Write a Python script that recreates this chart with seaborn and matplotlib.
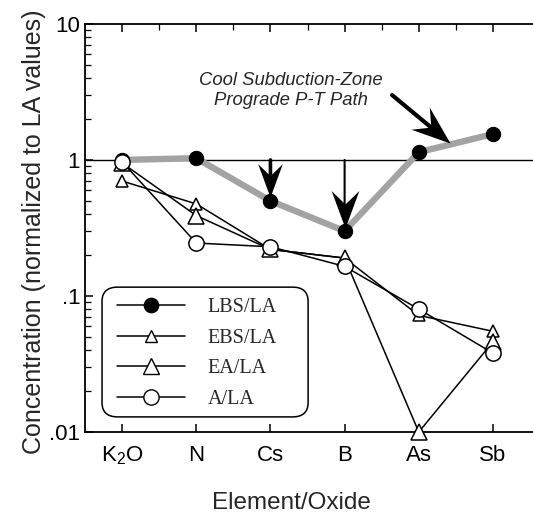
import numpy as np
import pandas as pd
import matplotlib
matplotlib.use("Agg")
import matplotlib.pyplot as plt
import seaborn as sns
from matplotlib.ticker import LogLocator, FixedLocator, FixedFormatter, NullFormatter
from matplotlib.lines import Line2D
from matplotlib.path import Path
from matplotlib.markers import MarkerStyle
from matplotlib.patches import FancyBboxPatch

categories = ["K$_2$O", "N", "Cs", "B", "As", "Sb"]
lbs_la = [1.00, 1.03, 0.50, 0.30, 1.14, 1.55]
ebs_la = [0.70, 0.475, 0.22, 0.19, 0.072, 0.055]
ea_la = [0.95, 0.39, 0.22, 0.19, 0.010, 0.046]
a_la = [0.97, 0.245, 0.23, 0.165, 0.080, 0.038]
y_tick_values = [0.01, 0.1, 1, 10]
y_tick_labels = [".01", ".1", "1", "10"]

sns.set_theme(style="ticks")
plt.rcParams["font.family"] = ["Liberation Sans", "DejaVu Sans"]
plt.rcParams["mathtext.fontset"] = "custom"
plt.rcParams["mathtext.rm"] = "Liberation Sans"
plt.rcParams["mathtext.it"] = "Liberation Sans:italic"

pos = np.arange(1, len(categories) + 1)
df = pd.DataFrame({"pos": pos, "LBS": lbs_la, "EBS": ebs_la, "EA": ea_la, "A": a_la})

fig = plt.figure(figsize=(5.33, 5.14), dpi=100)
ax = fig.add_axes([0.1595, 0.1595, 0.8405, 0.794])
ax.set_yscale("log")
ax.set_xlim(0.5, 6.54)
ax.set_ylim(0.01, 10)

# reference line at 1
ax.axhline(1.0, color="black", lw=1.0, zorder=1)

# gray prograde path (LBS)
sns.lineplot(data=df, x="pos", y="LBS", ax=ax, color="#a3a3a3", lw=4.6,
             zorder=2, legend=False)
sns.lineplot(data=df, x="pos", y="LBS", ax=ax, color="black", lw=0, marker="o",
             markersize=10.3, markerfacecolor="black", markeredgecolor="black",
             zorder=3.5, legend=False)

common = dict(color="black", lw=1.1, markerfacecolor="white", markeredgecolor="black",
              markeredgewidth=1.1, legend=False, clip_on=False)
sns.lineplot(data=df, x="pos", y="EBS", ax=ax, marker="^", markersize=9, zorder=4, **common)
sns.lineplot(data=df, x="pos", y="EA", ax=ax, marker="^", markersize=12, zorder=4, **common)
sns.lineplot(data=df, x="pos", y="A", ax=ax, marker="o", markersize=11, zorder=5, **common)

# legend (frame drawn separately for exact extent)
frame = FancyBboxPatch((0.038, 0.037), 0.46, 0.318, transform=ax.transAxes,
                       boxstyle="round,pad=0,rounding_size=0.035",
                       facecolor="white", edgecolor="black", lw=1.1, zorder=6)
ax.add_patch(frame)
handles = [
    Line2D([], [], color="black", lw=1.1, marker="o", markersize=10.3,
           markerfacecolor="black", markeredgecolor="black"),
    Line2D([], [], color="black", lw=1.1, marker="^", markersize=9,
           markerfacecolor="white", markeredgecolor="black"),
    Line2D([], [], color="black", lw=1.1, marker="^", markersize=12,
           markerfacecolor="white", markeredgecolor="black"),
    Line2D([], [], color="black", lw=1.1, marker="o", markersize=11,
           markerfacecolor="white", markeredgecolor="black"),
]
labels = ["LBS/LA", "EBS/LA", "EA/LA", "A/LA"]
leg = ax.legend(handles, labels, loc="upper left", bbox_to_anchor=(0.071, 0.329),
                borderaxespad=0, borderpad=0, frameon=False, handlelength=3.4,
                handletextpad=1.1, labelspacing=0.58,
                prop={"family": "Liberation Serif", "size": 14.5})
leg.set_zorder(7)

# stealth-style arrow heads (tip at origin, pointing down)
head_path = Path([(0, 0), (-0.37, 1.0), (0, 0.64), (0.37, 1.0), (0, 0)],
                 [Path.MOVETO, Path.LINETO, Path.LINETO, Path.LINETO, Path.CLOSEPOLY])


def arrow(tail, tip, shaft_lw, head_len_pt):
    ax.annotate("", xy=tip, xytext=tail,
                arrowprops=dict(arrowstyle="-", color="black", lw=shaft_lw,
                                shrinkA=0, shrinkB=head_len_pt * 0.6))
    p0 = ax.transData.transform(tail)
    p1 = ax.transData.transform(tip)
    ang = np.degrees(np.arctan2(p1[1] - p0[1], p1[0] - p0[0]))
    m = MarkerStyle(head_path).rotated(deg=ang + 90)
    ax.plot([tip[0]], [tip[1]], marker=m, markersize=2 * head_len_pt,
            color="black", markeredgewidth=0, zorder=3, linestyle="none")


arrow((3, 1.0), (3, 0.53), 2.6, 24)
arrow((4, 1.0), (4, 0.315), 1.5, 27)
arrow((4.64, 3.0), (5.42, 1.33), 3.0, 28)

ax.text(3.28, 3.25, "Cool Subduction-Zone\nPrograde P-T Path", style="italic",
        ha="center", va="center", fontsize=13.3, linespacing=1.2)

# axes formatting
ax.xaxis.set_major_locator(FixedLocator(pos))
ax.xaxis.set_major_formatter(FixedFormatter(categories))
ax.xaxis.set_minor_locator(FixedLocator(pos[:-1] + 0.5))
ax.yaxis.set_major_locator(FixedLocator(y_tick_values))
ax.yaxis.set_major_formatter(FixedFormatter(y_tick_labels))
ax.yaxis.set_minor_locator(LogLocator(base=10, subs=np.arange(2, 10)))
ax.yaxis.set_minor_formatter(NullFormatter())
ax.tick_params(axis="both", which="both", direction="in", top=True, right=False,
               colors="black", labelsize=16)
ax.tick_params(axis="both", which="major", length=6, width=1.1)
ax.tick_params(axis="both", which="minor", length=4, width=0.9)
ax.tick_params(axis="x", which="minor", bottom=False, top=True)
ax.tick_params(axis="x", which="major", pad=9)
for s in ["left", "bottom", "top"]:
    ax.spines[s].set_linewidth(1.3)
    ax.spines[s].set_color("black")
ax.spines["right"].set_visible(False)

ax.set_xlabel("Element/Oxide", fontsize=17.5, labelpad=18)
ax.xaxis.label.set_x(0.46)
ax.set_ylabel("Concentration (normalized to LA values)", fontsize=18, labelpad=2)
ax.yaxis.label.set_y(0.49)

fig.savefig("out.png", dpi=100)
